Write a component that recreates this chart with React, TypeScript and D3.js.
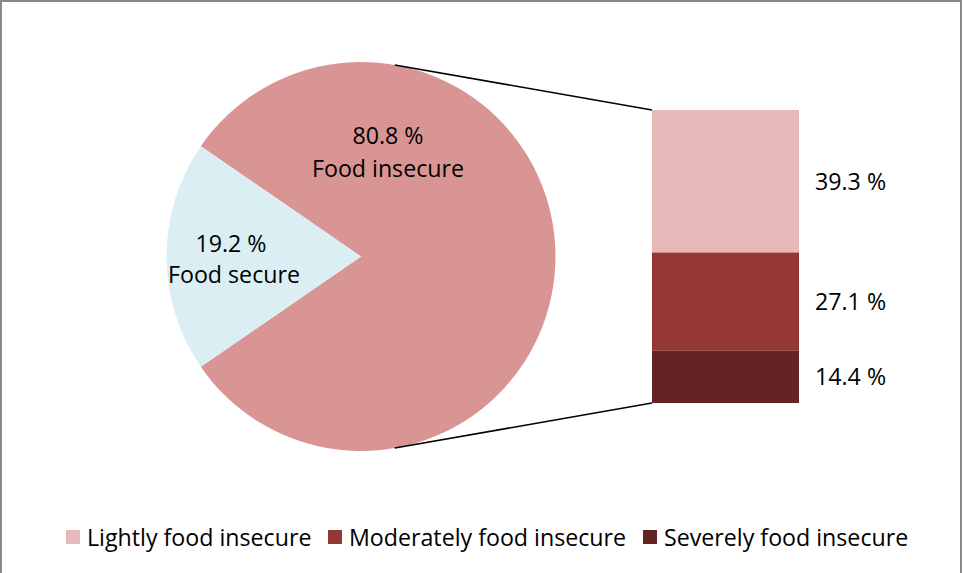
import React from "react";
import * as d3 from "d3";

const pieCategories = ["Food insecure", "Food secure"];
const pieValues = [80.8, 19.2];
const pieColors = ["#D99594", "#DAEEF3"];

const barCategories = ["Lightly food insecure", "Moderately food insecure", "Severely food insecure"];
const barValues = [39.3, 27.1, 14.4];
const barColors = ["#E6B9B8", "#953735", "#632423"];

const W = 963;
const H = 573;
const FONT = "'Open Sans', 'Noto Sans', sans-serif";
const FS = 23.2;

export default function App() {
  const cx = 361;
  const cy = 256.5;
  const r = 194.5;

  const secureFrac = pieValues[1] / d3.sum(pieValues);
  const start = 1.5 * Math.PI + secureFrac * Math.PI;
  const pie = d3
    .pie<number>()
    .sort(null)
    .startAngle(start)
    .endAngle(start + 2 * Math.PI);
  const arcs = pie(pieValues);
  const arcGen = d3.arc<d3.PieArcDatum<number>>().innerRadius(0).outerRadius(r);

  // bar of pie
  const barX = 652;
  const barW = 147;
  const barTop = 110;
  const barBottom = 403;
  const total = d3.sum(barValues);
  const y = d3.scaleLinear().domain([0, total]).range([barTop, barBottom]);
  const cum = d3.cumsum(barValues);
  const segs = barValues.map((v, i) => ({
    v,
    y0: y(i === 0 ? 0 : cum[i - 1]),
    y1: y(cum[i]),
    color: barColors[i],
  }));

  const connAngle = (10 * Math.PI) / 180;
  const topPt = [cx + r * Math.sin(connAngle), cy - r * Math.cos(connAngle)];
  const botPt = [cx + r * Math.sin(connAngle), cy + r * Math.cos(connAngle)];

  const legendX = [66, 328, 643];

  return (
    <svg width={W} height={H} style={{ position: "absolute", left: 0, top: 0 }} fontFamily={FONT}>
      <rect x={0} y={0} width={W} height={H} fill="#fff" />
      <rect x={1} y={1} width={960} height={H + 5} fill="none" stroke="#898989" strokeWidth={2} />
      {arcs.map((a, i) => (
        <path key={i} d={arcGen(a) || ""} transform={`translate(${cx},${cy})`} fill={pieColors[i]} />
      ))}
      <text x={388} y={144} fontSize={FS} textAnchor="middle" fill="#000">
        {pieValues[0].toFixed(1)} %
      </text>
      <text x={388} y={177} fontSize={FS} textAnchor="middle" fill="#000">
        {pieCategories[0]}
      </text>
      <text x={231} y={252} fontSize={FS} textAnchor="middle" fill="#000">
        {pieValues[1].toFixed(1)} %
      </text>
      <text x={234} y={283} fontSize={FS} textAnchor="middle" fill="#000">
        {pieCategories[1]}
      </text>

      <line x1={topPt[0]} y1={topPt[1]} x2={barX} y2={barTop} stroke="#000" strokeWidth={1.5} />
      <line x1={botPt[0]} y1={botPt[1]} x2={barX} y2={barBottom} stroke="#000" strokeWidth={1.5} />

      {segs.map((s, i) => (
        <g key={i}>
          <rect x={barX} y={s.y0} width={barW} height={s.y1 - s.y0} fill={s.color} />
          <text x={815} y={(s.y0 + s.y1) / 2 + 8.5} fontSize={FS} fill="#000">
            {s.v.toFixed(1)} %
          </text>
        </g>
      ))}

      {barCategories.map((c, i) => (
        <g key={c}>
          <rect x={legendX[i]} y={530} width={14} height={14} fill={barColors[i]} />
          <text x={legendX[i] + 21} y={545.5} fontSize={FS} fill="#000">
            {c}
          </text>
        </g>
      ))}
    </svg>
  );
}
